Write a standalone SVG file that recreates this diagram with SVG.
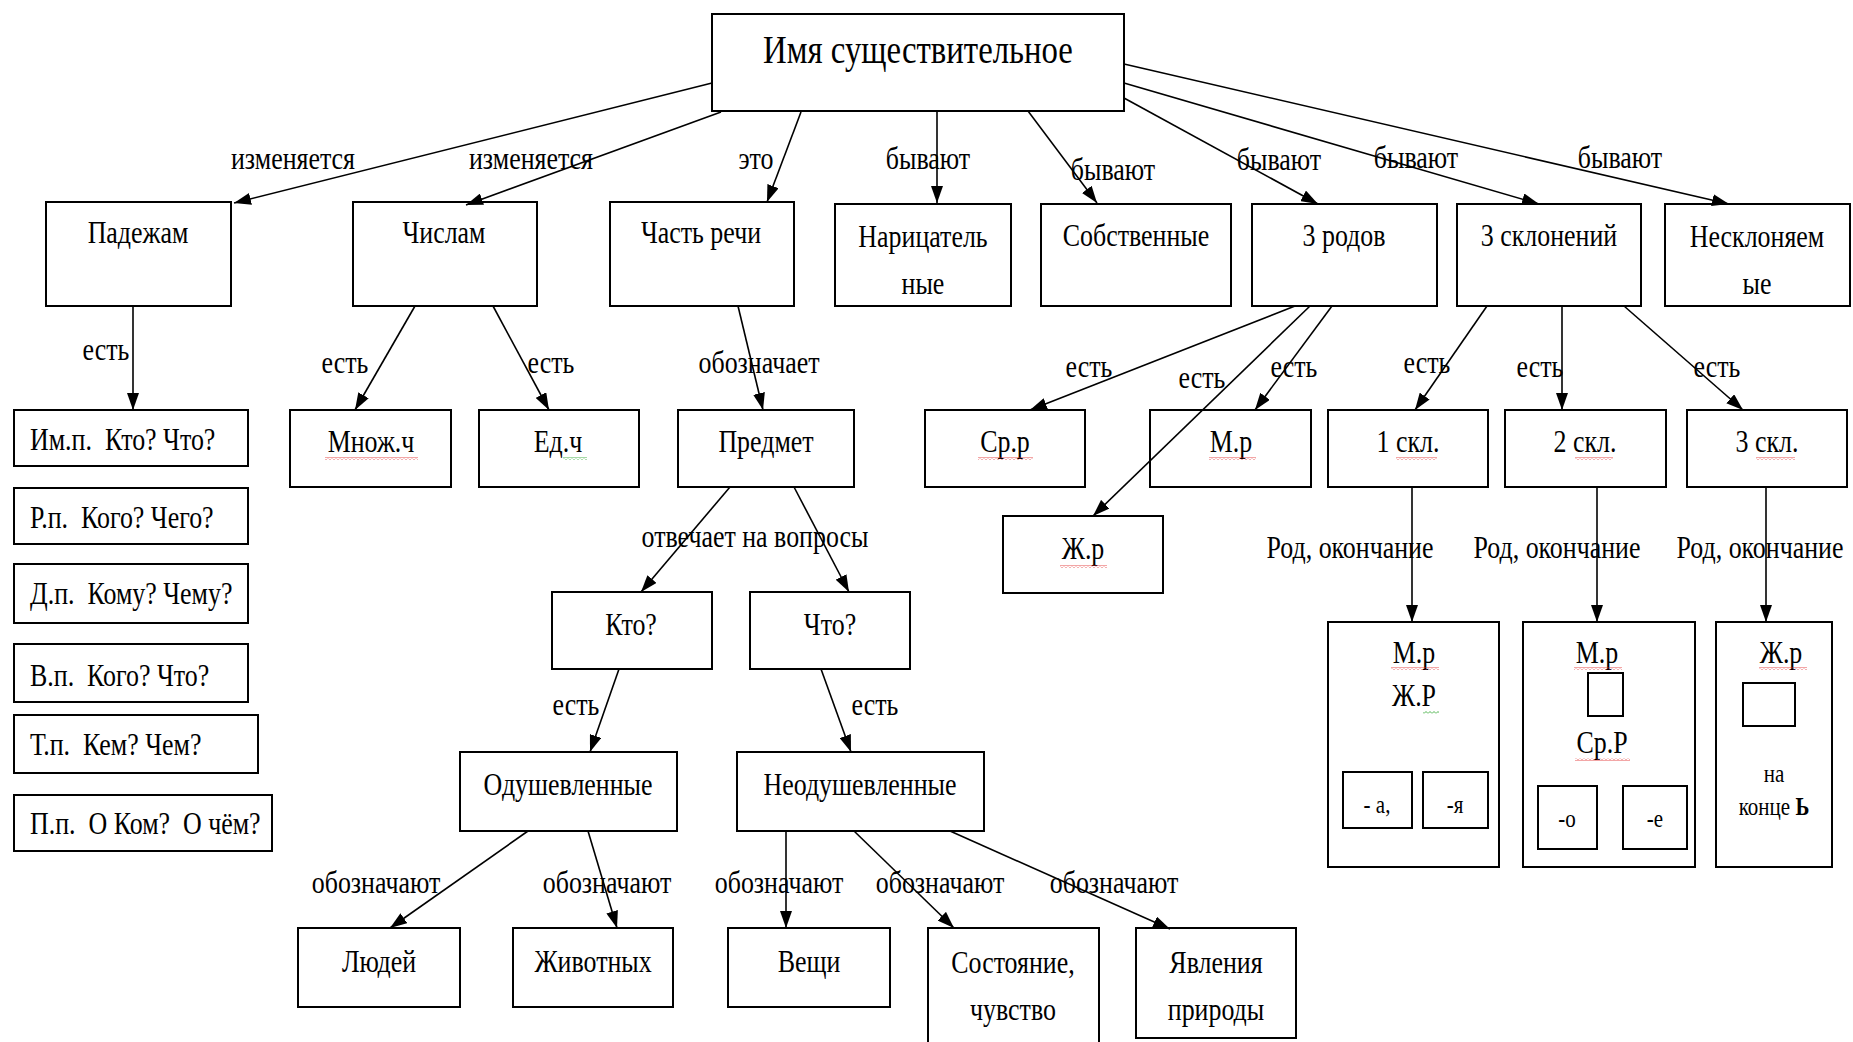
<svg xmlns="http://www.w3.org/2000/svg" width="1853" height="1042" viewBox="0 0 1853 1042">
<defs>
<marker id="arr" markerUnits="userSpaceOnUse" markerWidth="17" markerHeight="12" refX="17" refY="6" orient="auto">
<path d="M0,0 L17,6 L0,12 z" fill="#000"/>
</marker>
<pattern id="wr" patternUnits="userSpaceOnUse" width="4" height="3">
<path d="M0,2.5 L2,0.5 L4,2.5" fill="none" stroke="#e02020" stroke-width="0.8"/>
</pattern>
<pattern id="wg" patternUnits="userSpaceOnUse" width="4" height="3">
<path d="M0,2.5 L2,0.5 L4,2.5" fill="none" stroke="#20a020" stroke-width="0.8"/>
</pattern>
</defs>
<style>
rect.b{fill:#fff;stroke:#000;stroke-width:2}
text{font-family:"Liberation Serif","Times New Roman",serif;fill:#000}
.t{font-size:32px;text-anchor:middle;transform-box:fill-box;transform-origin:center;transform:scaleX(0.81)}
.l{font-size:32px;text-anchor:start;transform-box:fill-box;transform-origin:left center;transform:scaleX(0.81)}
.s{font-size:25px;text-anchor:middle;transform-box:fill-box;transform-origin:center;transform:scaleX(0.84)}
.h{font-size:40px;text-anchor:middle;transform-box:fill-box;transform-origin:center;transform:scaleX(0.82)}
.c line{stroke:#000;stroke-width:1.6;marker-end:url(#arr)}
.wr{fill:url(#wr)}
.wg{fill:url(#wg)}
</style>
<rect width="1853" height="1042" fill="#fff"/>

<g id="n-main"><rect class="b" x="712" y="14" width="412" height="97"/><text class="h" x="918" y="63">Имя существительное</text></g>
<g id="n-padezham"><rect class="b" x="46" y="202" width="185" height="104"/><text class="t" x="138" y="243">Падежам</text></g>
<g id="n-chislam"><rect class="b" x="353" y="202" width="184" height="104"/><text class="t" x="444" y="243">Числам</text></g>
<g id="n-chast"><rect class="b" x="610" y="202" width="184" height="104"/><text class="t" x="701" y="243">Часть речи</text></g>
<g id="n-naric"><rect class="b" x="835" y="204" width="176" height="102"/><text class="t" x="923" y="247">Нарицатель</text><text class="t" x="923" y="294">ные</text></g>
<g id="n-sobstv"><rect class="b" x="1041" y="204" width="190" height="102"/><text class="t" x="1136" y="246">Собственные</text></g>
<g id="n-rodov"><rect class="b" x="1252" y="204" width="185" height="102"/><text class="t" x="1344" y="246">3 родов</text></g>
<g id="n-sklon"><rect class="b" x="1457" y="204" width="184" height="102"/><text class="t" x="1549" y="246">3 склонений</text></g>
<g id="n-nesklon"><rect class="b" x="1665" y="204" width="185" height="102"/><text class="t" x="1757" y="247">Несклоняем</text><text class="t" x="1757" y="294">ые</text></g>

<g id="n-im"><rect class="b" x="14" y="410" width="234" height="56"/><text class="l" x="30" y="450" xml:space="preserve">Им.п.  Кто? Что?</text></g>
<g id="n-rp"><rect class="b" x="14" y="488" width="234" height="56"/><text class="l" x="30" y="528" xml:space="preserve">Р.п.  Кого? Чего?</text></g>
<g id="n-dp"><rect class="b" x="14" y="564" width="234" height="59"/><text class="l" x="30" y="604" xml:space="preserve">Д.п.  Кому? Чему?</text></g>
<g id="n-vp"><rect class="b" x="14" y="644" width="234" height="58"/><text class="l" x="30" y="686" xml:space="preserve">В.п.  Кого? Что?</text></g>
<g id="n-tp"><rect class="b" x="14" y="715" width="244" height="58"/><text class="l" x="30" y="755" xml:space="preserve">Т.п.  Кем? Чем?</text></g>
<g id="n-pp"><rect class="b" x="14" y="795" width="258" height="56"/><text class="l" x="30" y="834" xml:space="preserve">П.п.  О Ком?  О чём?</text></g>

<g id="n-mnozh"><rect class="b" x="290" y="410" width="161" height="77"/><text class="t" x="371" y="452">Множ.ч</text><rect class="wr" x="325" y="457" width="93" height="3"/></g>
<g id="n-ed"><rect class="b" x="479" y="410" width="160" height="77"/><text class="t" x="558" y="452">Ед.ч</text><rect class="wg" x="563" y="457" width="24" height="3"/></g>
<g id="n-predmet"><rect class="b" x="678" y="410" width="176" height="77"/><text class="t" x="766" y="452">Предмет</text></g>
<g id="n-kto"><rect class="b" x="552" y="592" width="160" height="77"/><text class="t" x="631" y="635">Кто?</text></g>
<g id="n-chto"><rect class="b" x="750" y="592" width="160" height="77"/><text class="t" x="830" y="635">Что?</text></g>
<g id="n-odush"><rect class="b" x="460" y="752" width="217" height="79"/><text class="t" x="568" y="795">Одушевленные</text></g>
<g id="n-neodush"><rect class="b" x="737" y="752" width="247" height="79"/><text class="t" x="860" y="795">Неодушевленные</text></g>
<g id="n-lyudey"><rect class="b" x="298" y="928" width="162" height="79"/><text class="t" x="379" y="972">Людей</text></g>
<g id="n-zhivot"><rect class="b" x="513" y="928" width="160" height="79"/><text class="t" x="593" y="972">Животных</text></g>
<g id="n-veshchi"><rect class="b" x="728" y="928" width="162" height="79"/><text class="t" x="809" y="972">Вещи</text></g>
<g id="n-sostoyanie"><rect class="b" x="928" y="928" width="171" height="125"/><text class="t" x="1013" y="973">Состояние,</text><text class="t" x="1013" y="1020">чувство</text></g>
<g id="n-yavleniya"><rect class="b" x="1136" y="928" width="160" height="110"/><text class="t" x="1216" y="973">Явления</text><text class="t" x="1216" y="1020">природы</text></g>

<g id="n-srr"><rect class="b" x="925" y="410" width="160" height="77"/><text class="t" x="1005" y="452">Ср.р</text><rect class="wr" x="978" y="457" width="55" height="3"/></g>
<g id="n-mr"><rect class="b" x="1150" y="410" width="161" height="77"/><text class="t" x="1231" y="452">М.р</text><rect class="wr" x="1209" y="457" width="47" height="3"/></g>
<g id="n-zhr"><rect class="b" x="1003" y="516" width="160" height="77"/><text class="t" x="1083" y="559">Ж.р</text><rect class="wr" x="1060" y="565" width="47" height="3"/></g>
<g id="n-skl1"><rect class="b" x="1328" y="410" width="160" height="77"/><text class="t" x="1408" y="452">1 скл.</text><rect class="wr" x="1396" y="457" width="41" height="3"/></g>
<g id="n-skl2"><rect class="b" x="1505" y="410" width="161" height="77"/><text class="t" x="1585" y="452">2 скл.</text><rect class="wr" x="1575" y="457" width="38" height="3"/></g>
<g id="n-skl3"><rect class="b" x="1687" y="410" width="160" height="77"/><text class="t" x="1767" y="452">3 скл.</text><rect class="wr" x="1756" y="457" width="39" height="3"/></g>

<g id="n-end1"><rect class="b" x="1328" y="622" width="171" height="245"/>
<text class="t" x="1414" y="663">М.р</text><rect class="wr" x="1391" y="667" width="48" height="3"/>
<text class="t" x="1414" y="706">Ж.Р</text><rect class="wg" x="1423" y="711" width="16" height="3"/>
<rect class="b" x="1343" y="772" width="69" height="56"/><text class="s" x="1377" y="813">- а,</text>
<rect class="b" x="1423" y="772" width="65" height="56"/><text class="s" x="1455" y="813">-я</text>
</g>
<g id="n-end2"><rect class="b" x="1523" y="622" width="172" height="245"/>
<text class="t" x="1597" y="663">М.р</text><rect class="wr" x="1574" y="667" width="48" height="3"/>
<rect class="b" x="1588" y="673" width="35" height="43"/>
<text class="t" x="1602" y="753">Ср.Р</text><rect class="wr" x="1575" y="758" width="55" height="3"/>
<rect class="b" x="1538" y="786" width="59" height="63"/><text class="s" x="1567" y="827">-о</text>
<rect class="b" x="1623" y="786" width="64" height="63"/><text class="s" x="1655" y="827">-е</text>
</g>
<g id="n-end3"><rect class="b" x="1716" y="622" width="116" height="245"/>
<text class="t" x="1781" y="663">Ж.р</text><rect class="wr" x="1759" y="667" width="48" height="3"/>
<rect class="b" x="1743" y="683" width="52" height="43"/>
<text class="s" x="1774" y="782">на</text>
<text class="s" x="1774" y="815">конце <tspan font-weight="bold">Ь</tspan></text>
</g>

<g id="connectors" class="c">
<line x1="712" y1="83" x2="234" y2="203"/>
<line x1="721" y1="112" x2="466" y2="205"/>
<line x1="801" y1="112" x2="767" y2="202"/>
<line x1="937" y1="111" x2="937" y2="203"/>
<line x1="1028" y1="111" x2="1097" y2="203"/>
<line x1="1124" y1="98" x2="1318" y2="204"/>
<line x1="1124" y1="83" x2="1539" y2="204"/>
<line x1="1124" y1="64" x2="1729" y2="204"/>
<line x1="133" y1="306" x2="133" y2="410"/>
<line x1="415" y1="306" x2="355" y2="410"/>
<line x1="493" y1="306" x2="549" y2="410"/>
<line x1="738" y1="306" x2="763" y2="410"/>
<line x1="730" y1="487" x2="641" y2="592"/>
<line x1="794" y1="487" x2="849" y2="592"/>
<line x1="619" y1="669" x2="590" y2="752"/>
<line x1="821" y1="669" x2="851" y2="752"/>
<line x1="528" y1="831" x2="390" y2="928"/>
<line x1="588" y1="831" x2="617" y2="928"/>
<line x1="786" y1="831" x2="786" y2="928"/>
<line x1="854" y1="831" x2="954" y2="928"/>
<line x1="950" y1="831" x2="1170" y2="929"/>
<line x1="1295" y1="306" x2="1030" y2="410"/>
<line x1="1310" y1="306" x2="1093" y2="516"/>
<line x1="1332" y1="306" x2="1255" y2="410"/>
<line x1="1487" y1="306" x2="1415" y2="410"/>
<line x1="1562" y1="306" x2="1562" y2="410"/>
<line x1="1624" y1="306" x2="1743" y2="410"/>
<line x1="1412" y1="487" x2="1412" y2="622"/>
<line x1="1597" y1="487" x2="1597" y2="622"/>
<line x1="1766" y1="487" x2="1766" y2="622"/>
</g>

<g id="labels">
<text class="t" x="293" y="169">изменяется</text>
<text class="t" x="531" y="169">изменяется</text>
<text class="t" x="756" y="169">это</text>
<text class="t" x="928" y="169">бывают</text>
<text class="t" x="1113" y="180">бывают</text>
<text class="t" x="1279" y="170">бывают</text>
<text class="t" x="1416" y="168">бывают</text>
<text class="t" x="1620" y="168">бывают</text>
<text class="t" x="106" y="360">есть</text>
<text class="t" x="345" y="373">есть</text>
<text class="t" x="551" y="373">есть</text>
<text class="t" x="759" y="373">обозначает</text>
<text class="t" x="755" y="547">отвечает на вопросы</text>
<text class="t" x="576" y="715">есть</text>
<text class="t" x="875" y="715">есть</text>
<text class="t" x="376" y="893">обозначают</text>
<text class="t" x="607" y="893">обозначают</text>
<text class="t" x="779" y="893">обозначают</text>
<text class="t" x="940" y="893">обозначают</text>
<text class="t" x="1114" y="893">обозначают</text>
<text class="t" x="1089" y="377">есть</text>
<text class="t" x="1202" y="388">есть</text>
<text class="t" x="1294" y="377">есть</text>
<text class="t" x="1427" y="373">есть</text>
<text class="t" x="1540" y="377">есть</text>
<text class="t" x="1717" y="377">есть</text>
<text class="t" x="1350" y="558">Род, окончание</text>
<text class="t" x="1557" y="558">Род, окончание</text>
<text class="t" x="1760" y="558">Род, окончание</text>
</g>
</svg>
